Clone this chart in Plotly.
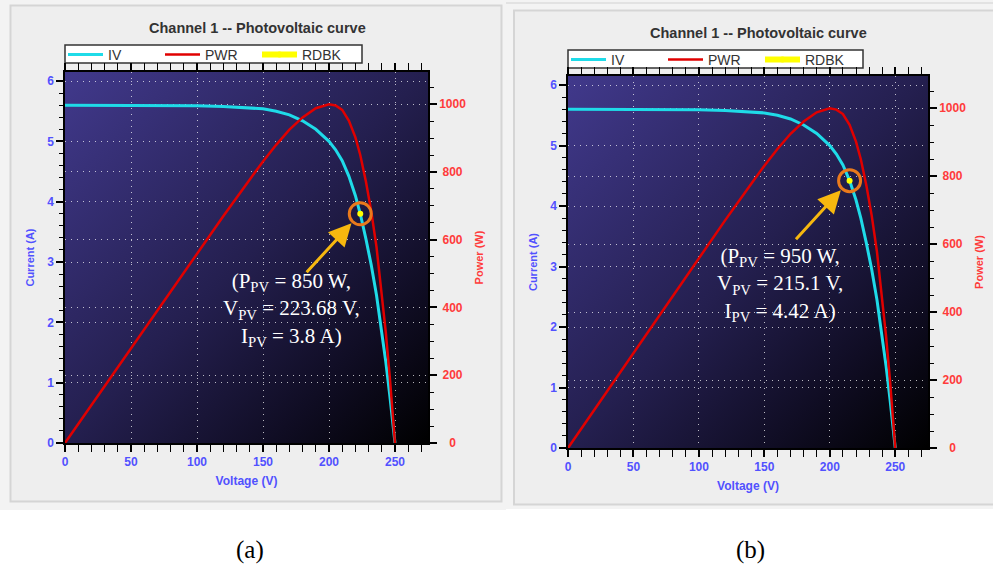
import base64
import plotly.graph_objects as go

# Channel 1 I-V and P-V characteristic (same sweep shown in both panels)
voltage = [0, 25, 50, 75, 100, 120, 140, 150, 160, 170, 180, 190, 200, 205, 210,
           215.1, 220, 223.68, 228, 232, 236, 240, 243, 246, 248, 250]
current = [5.60, 5.60, 5.60, 5.60, 5.59, 5.58, 5.56, 5.54, 5.50, 5.44, 5.34, 5.20, 5.00, 4.86, 4.68,
           4.42, 4.10, 3.80, 3.38, 2.95, 2.45, 1.85, 1.35, 0.80, 0.42, 0.0]
power = [0, 140, 280, 420, 559, 670, 778, 831, 880, 925, 961, 988, 1000, 996, 983,
         951, 902, 850, 771, 684, 578, 444, 328, 197, 104, 0]

# Readback operating point of each panel
op_power = [850, 950]
op_voltage = [223.68, 215.1]
op_current = [3.8, 4.42]
captions = ["(a)", "(b)"]

# power axis labels (padded so they sit centred under each other)
power_tick_vals = [0, 200, 400, 600, 800, 1000]
power_tick_text = ["\u00a0\u00a0\u00a00", "\u00a0200", "\u00a0400", "\u00a0600", "\u00a0800", "1000"]

W, H = 993, 571
BLUE = "#5151ff"
RED = "#ff3b3b"
SANS = "Liberation Sans"
SERIF = "Liberation Serif"

# plot areas in pixels: (left, right, top, bottom)
areas = [(65, 428, 72, 443), (568, 928, 76, 448)]
titles_xy = [(257, 28), (758, 33)]
legend_boxes = [(65, 45, 362, 63), (568, 50, 863, 68)]
caption_xy = [(250, 550), (750, 550)]
label_xy = [(291, 309), (780, 284)]


def svg_uri(svg):
    return "data:image/svg+xml;base64," + base64.b64encode(svg.encode()).decode()


backdrop = svg_uri(
    f'<svg xmlns="http://www.w3.org/2000/svg" width="{W}" height="{H}" viewBox="0 0 {W} {H}" preserveAspectRatio="none">'
    '<rect x="0" y="0" width="506" height="510" fill="#f3f3f3"/>'
    '<rect x="10.5" y="5.5" width="491" height="496" fill="#eeeeee" stroke="#d5d5d5" stroke-width="2"/>'
    '<rect x="506" y="0" width="487" height="509" fill="#f3f3f3"/>'
    '<line x1="506" y1="3" x2="993" y2="3" stroke="#dcdcdc" stroke-width="1.5"/>'
    '<rect x="514" y="10.5" width="485" height="494" fill="#eeeeee" stroke="#d5d5d5" stroke-width="2"/>'
    '</svg>'
)

gradient = svg_uri(
    '<svg xmlns="http://www.w3.org/2000/svg" width="100" height="100" viewBox="0 0 100 100" preserveAspectRatio="none">'
    '<defs><linearGradient id="g" x1="0" y1="0" x2="1" y2="1">'
    '<stop offset="0" stop-color="#41398c"/>'
    '<stop offset="0.5" stop-color="#241f4f"/>'
    '<stop offset="0.78" stop-color="#100d24"/>'
    '<stop offset="1" stop-color="#000000"/>'
    '</linearGradient></defs>'
    '<rect width="100" height="100" fill="url(#g)"/></svg>'
)

fig = go.Figure()

images = [dict(source=backdrop, xref="paper", yref="paper", x=0, y=1, sizex=1, sizey=1,
               xanchor="left", yanchor="top", sizing="stretch", layer="below")]
annotations = []
shapes = []

grid = dict(showgrid=True, gridcolor="rgba(255,255,255,0.7)", gridwidth=1, griddash="1px,5px")

for k in range(2):
    l, r, t, b = areas[k]
    xa = "xaxis" if k == 0 else "xaxis2"
    xid = "x" if k == 0 else "x2"
    yi_id = "y" if k == 0 else "y3"
    yp_id = "y2" if k == 0 else "y4"
    yi_ax = "yaxis" if k == 0 else "yaxis3"
    yp_ax = "yaxis2" if k == 0 else "yaxis4"
    leg = "legend" if k == 0 else "legend2"

    xdom = [l / W, r / W]
    ydom = [1 - b / H, 1 - t / H]

    images.append(dict(source=gradient, xref="paper", yref="paper", x=xdom[0], y=ydom[1],
                       sizex=xdom[1] - xdom[0], sizey=ydom[1] - ydom[0],
                       xanchor="left", yanchor="top", sizing="stretch", layer="below"))

    fig.add_trace(go.Scatter(x=voltage, y=current, mode="lines", name="IV",
                             line=dict(color="#1fdbe8", width=3),
                             xaxis=xid, yaxis=yi_id, legend=leg))
    fig.add_trace(go.Scatter(x=voltage, y=power, mode="lines", name="PWR",
                             line=dict(color="#e00000", width=2.5),
                             xaxis=xid, yaxis=yp_id, legend=leg))
    fig.add_trace(go.Scatter(x=[op_voltage[k]], y=[op_current[k]], mode="lines+markers", name="RDBK",
                             line=dict(color="#ffff00", width=6),
                             marker=dict(color="#ffff00", size=6),
                             xaxis=xid, yaxis=yi_id, legend=leg))

    axis_common = dict(showline=True, linecolor="black", linewidth=1.5,
                       ticks="outside", tickcolor="black", tickwidth=1.5, ticklen=7,
                       zeroline=False, automargin=False)

    bx0, by0, bx1, by1 = legend_boxes[k]
    fig.update_layout({
        xa: dict(domain=xdom, range=[0, 275], anchor=yi_id, dtick=50, tick0=0,
                 mirror="allticks",
                 minor=dict(dtick=10, ticks="outside", ticklen=4, tickcolor="black", tickwidth=1.2,
                            showgrid=False),
                 tickfont=dict(family=SANS, size=12, color=BLUE, weight="bold"),
                 title=dict(text="Voltage (V)", standoff=8,
                            font=dict(family=SANS, size=12, color=BLUE, weight="bold")),
                 **grid, **axis_common),
        yi_ax: dict(domain=ydom, range=[0, 6.15], anchor=xid, dtick=1, tick0=0,
                    minor=dict(dtick=0.2, ticks="outside", ticklen=4, tickcolor="black", tickwidth=1.2,
                               showgrid=False),
                    tickfont=dict(family=SANS, size=12, color=BLUE, weight="bold"),
                    title=dict(text="Current (A)", standoff=10,
                               font=dict(family=SANS, size=11, color=BLUE, weight="bold")),
                    **grid, **axis_common),
        yp_ax: dict(range=[0, 1095], overlaying=yi_id, anchor=xid, side="right",
                    tickmode="array", tickvals=power_tick_vals, ticktext=power_tick_text,
                    minor=dict(dtick=50, tick0=0, ticks="outside", ticklen=4, tickcolor="black",
                               tickwidth=1.2, showgrid=False),
                    tickfont=dict(family=SANS, size=12, color=RED, weight="bold"),
                    title=dict(text="Power (W)", standoff=10,
                               font=dict(family=SANS, size=11, color=RED, weight="bold")),
                    **grid, **axis_common),
        leg: dict(x=(bx0 - 2) / W, y=1 - (by0 - 6) / H, xanchor="left", yanchor="top",
                  orientation="h", bgcolor="rgba(0,0,0,0)", borderwidth=0,
                  itemwidth=35, entrywidth=47,
                  font=dict(family=SANS, size=14, color="#333333")),
    })

    # legend frame
    shapes.append(dict(type="rect", xref="paper", yref="paper",
                       x0=bx0 / W, x1=bx1 / W, y0=1 - by1 / H, y1=1 - by0 / H,
                       fillcolor="white", line=dict(color="#333333", width=1.5), layer="below"))

    # chart title
    annotations.append(dict(text="Channel 1 -- Photovoltaic curve", xref="paper", yref="paper",
                            x=titles_xy[k][0] / W, y=1 - titles_xy[k][1] / H,
                            xanchor="center", yanchor="middle", showarrow=False,
                            font=dict(family=SANS, size=14.5, color="#333333", weight="bold")))
    # panel caption
    annotations.append(dict(text=captions[k], xref="paper", yref="paper",
                            x=caption_xy[k][0] / W, y=1 - caption_xy[k][1] / H,
                            xanchor="center", yanchor="middle", showarrow=False,
                            font=dict(family=SERIF, size=25, color="black")))
    # operating point label
    v_txt = f"{op_voltage[k]:g}"
    i_txt = f"{op_current[k]:g}"
    annotations.append(dict(
        text=f"(P<sub>PV</sub> = {op_power[k]} W,<br>V<sub>PV</sub> = {v_txt} V,<br>I<sub>PV</sub> = {i_txt} A)",
        xref="paper", yref="paper", x=label_xy[k][0] / W, y=1 - label_xy[k][1] / H,
        xanchor="center", yanchor="middle", showarrow=False, align="center",
        font=dict(family=SERIF, size=21, color="white")))
    # arrow pointing at the operating point
    annotations.append(dict(text="", xref=xid, yref=yi_id, x=op_voltage[k], y=op_current[k],
                            ax=-55, ay=60, showarrow=True, arrowhead=2, arrowsize=1.5,
                            arrowwidth=3, arrowcolor="#f7b80f", standoff=13))
    # ring around the operating point
    shapes.append(dict(type="circle", xref=xid, yref=yi_id, xsizemode="pixel", ysizemode="pixel",
                       xanchor=op_voltage[k], yanchor=op_current[k], x0=-11, x1=11, y0=-11, y1=11,
                       line=dict(color="#ea7a1c", width=3), layer="above"))

fig.update_layout(
    width=W, height=H, autosize=False,
    margin=dict(l=0, r=0, t=0, b=0),
    paper_bgcolor="white", plot_bgcolor="rgba(0,0,0,0)",
    images=images, annotations=annotations, shapes=shapes,
    showlegend=True,
)

fig.write_html("out.html")
